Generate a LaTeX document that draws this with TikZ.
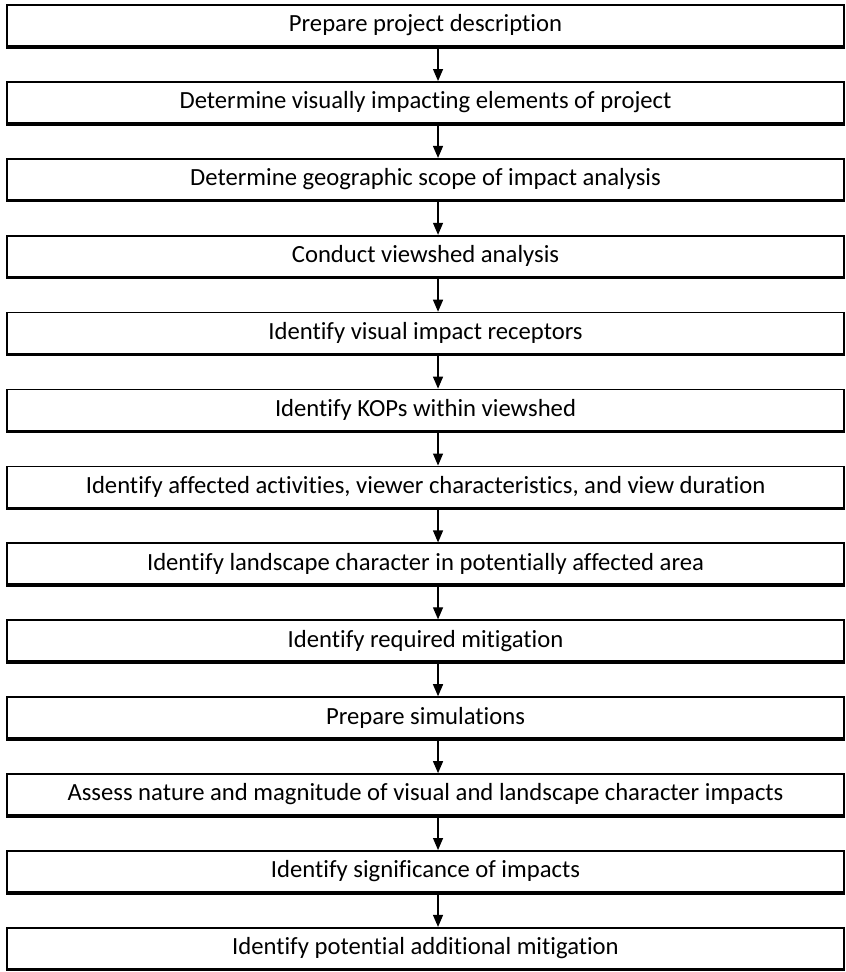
\documentclass[tikz,border=0pt]{standalone}
\usepackage{fontspec}
\setmainfont[Ligatures=NoCommon]{Carlito}
\usetikzlibrary{arrows.meta}
\tikzset{stepbox/.style={draw,line width=1.3pt,fill=white,minimum width=627.75pt,
    minimum height=30.75pt,inner sep=0pt,font=\fontsize{18.5}{21}\selectfont}}
\tikzset{flow/.style={line width=0.9pt,-{Triangle[width=7.5pt,length=9pt]}}}
\begin{document}
\begin{tikzpicture}[x=0.75pt,y=-0.75pt]
      \useasboundingbox (0,0) rectangle (846,972);
      \foreach \txt [count=\i] in {Prepare project description,
          Determine visually impacting elements of project,
          Determine geographic scope of impact analysis,
          Conduct viewshed analysis,
          Identify visual impact receptors,
          Identify KOPs within viewshed,
          {Identify affected activities, viewer characteristics, and view duration},
          Identify landscape character in potentially affected area,
          Identify required mitigation,
          Prepare simulations,
          Assess nature and magnitude of visual and landscape character impacts,
          Identify significance of impacts,
          Identify potential additional mitigation}
        {
        \node[stepbox] (s\i) at (425.5,{25.5+76.9*(\i-1)}) {\txt};
        \draw[line width=2.6pt] (s\i.south west) -- (s\i.south east);
        }
      \foreach \i [evaluate=\i as \j using int(\i+1)] in {1,...,12}
        \draw[flow] ([xshift=9.4pt]s\i.south) -- ([xshift=9.4pt]s\j.north);
    \end{tikzpicture}
\end{document}
